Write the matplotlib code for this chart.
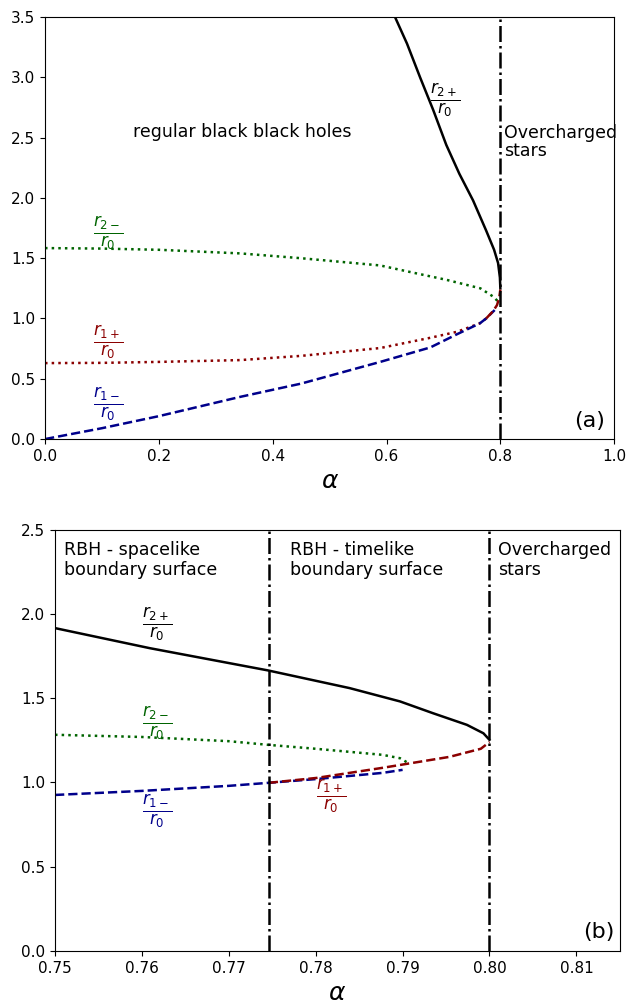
import matplotlib
matplotlib.use("Agg")
import matplotlib.pyplot as plt

# ---- panel (a) data ----
alpha_r2p_a = [0.615, 0.636, 0.659, 0.682, 0.705, 0.728, 0.752, 0.775, 0.789, 0.796, 0.7992, 0.80]
r2p_a = [3.50, 3.28, 3.00, 2.73, 2.44, 2.20, 1.98, 1.73, 1.57, 1.46, 1.34, 1.25]

alpha_r2m_a = [0.0, 0.1, 0.2, 0.343, 0.45, 0.589, 0.647, 0.706, 0.765, 0.788, 0.796, 0.80]
r2m_a = [1.584, 1.580, 1.570, 1.54, 1.50, 1.44, 1.38, 1.32, 1.25, 1.18, 1.14, 1.12]

alpha_r1p_a = [0.0, 0.1, 0.2, 0.343, 0.45, 0.589, 0.677, 0.724, 0.764, 0.775]
r1p_a = [0.63, 0.632, 0.64, 0.655, 0.69, 0.755, 0.84, 0.89, 0.96, 1.0]

alpha_r1p_dash_a = [0.775, 0.787, 0.794, 0.798, 0.80]
r1p_dash_a = [1.0, 1.06, 1.11, 1.17, 1.24]

alpha_r1m_a = [0.0, 0.1, 0.2, 0.343, 0.45, 0.589, 0.677, 0.724, 0.764, 0.775, 0.79]
r1m_a = [0.0, 0.09, 0.19, 0.35, 0.46, 0.64, 0.76, 0.87, 0.96, 1.0, 1.07]

# ---- panel (b) data ----
alpha_r2p_b = [0.75, 0.7609, 0.7745, 0.7839, 0.7897, 0.7935, 0.7974, 0.7993, 0.80]
r2p_b = [1.916, 1.797, 1.665, 1.560, 1.481, 1.411, 1.342, 1.292, 1.253]

alpha_r2m_b = [0.75, 0.76, 0.77, 0.7746, 0.78, 0.7877, 0.7897, 0.7905]
r2m_b = [1.283, 1.27, 1.245, 1.223, 1.20, 1.164, 1.144, 1.12]

alpha_r1m_b = [0.75, 0.76, 0.77, 0.7746, 0.78, 0.7877, 0.790]
r1m_b = [0.926, 0.95, 0.98, 0.998, 1.02, 1.057, 1.075]

alpha_r1p_b = [0.7746, 0.7801, 0.7877, 0.7954, 0.799, 0.80]
r1p_b = [0.998, 1.027, 1.087, 1.152, 1.20, 1.24]

alpha_ext = 0.8
alpha_sl = 0.7746

fig = plt.figure(figsize=(6.28, 10.07), dpi=100)
ax1 = fig.add_axes([0.0717, 0.564, 0.9063, 0.419])
ax2 = fig.add_axes([0.0876, 0.0556, 0.8994, 0.4184])

lw = 1.8
green = "#006400"
red = "#8b0000"
blue = "#00008b"
fs_lab = 17

# panel (a)
ax1.plot(alpha_r2p_a, r2p_a, "-", color="black", lw=lw)
ax1.plot(alpha_r2m_a, r2m_a, ":", color=green, lw=lw)
ax1.plot(alpha_r1p_a, r1p_a, ":", color=red, lw=lw)
ax1.plot(alpha_r1m_a, r1m_a, "--", color=blue, lw=lw)
ax1.plot(alpha_r1p_dash_a, r1p_dash_a, "--", color=red, lw=lw)
ax1.axvline(alpha_ext, color="black", ls="-.", lw=lw)

ax1.set_xlim(0, 1)
ax1.set_ylim(0, 3.5)
ax1.set_xticks([0.0, 0.2, 0.4, 0.6, 0.8, 1.0])
ax1.set_yticks([0.0, 0.5, 1.0, 1.5, 2.0, 2.5, 3.0, 3.5])
ax1.tick_params(labelsize=11)
ax1.set_xlabel(r"$\alpha$", fontsize=18)

ax1.text(0.155, 2.55, "regular black black holes", fontsize=12.5, va="center")
ax1.text(0.806, 2.61, "Overcharged\nstars", fontsize=12.5, va="top", linespacing=0.95)
ax1.text(0.93, 0.1, "(a)", fontsize=16)
ax1.text(0.677, 2.81, r"$\frac{r_{2+}}{r_0}$", fontsize=fs_lab, color="black", va="center")
ax1.text(0.084, 1.71, r"$\frac{r_{2-}}{r_0}$", fontsize=fs_lab, color=green, va="center")
ax1.text(0.084, 0.807, r"$\frac{r_{1+}}{r_0}$", fontsize=fs_lab, color=red, va="center")
ax1.text(0.084, 0.288, r"$\frac{r_{1-}}{r_0}$", fontsize=fs_lab, color=blue, va="center")

# panel (b)
ax2.plot(alpha_r2p_b, r2p_b, "-", color="black", lw=lw)
ax2.plot(alpha_r2m_b, r2m_b, ":", color=green, lw=lw)
ax2.plot(alpha_r1m_b, r1m_b, "--", color=blue, lw=lw)
ax2.plot(alpha_r1p_b, r1p_b, "--", color=red, lw=lw)
ax2.axvline(alpha_sl, color="black", ls="-.", lw=lw)
ax2.axvline(alpha_ext, color="black", ls="-.", lw=lw)

ax2.set_xlim(0.75, 0.815)
ax2.set_ylim(0, 2.5)
ax2.set_xticks([0.75, 0.76, 0.77, 0.78, 0.79, 0.80, 0.81])
ax2.set_yticks([0.0, 0.5, 1.0, 1.5, 2.0, 2.5])
ax2.tick_params(labelsize=11)
ax2.set_xlabel(r"$\alpha$", fontsize=18)

ax2.text(0.75104, 2.435, "RBH - spacelike\nboundary surface", fontsize=12.5, va="top")
ax2.text(0.7770, 2.435, "RBH - timelike\nboundary surface", fontsize=12.5, va="top")
ax2.text(0.8010, 2.435, "Overcharged\nstars", fontsize=12.5, va="top")
ax2.text(0.8108, 0.08, "(b)", fontsize=16)
ax2.text(0.76005, 1.94, r"$\frac{r_{2+}}{r_0}$", fontsize=fs_lab, color="black", va="center")
ax2.text(0.76005, 1.352, r"$\frac{r_{2-}}{r_0}$", fontsize=fs_lab, color=green, va="center")
ax2.text(0.76005, 0.827, r"$\frac{r_{1-}}{r_0}$", fontsize=fs_lab, color=blue, va="center")
ax2.text(0.78003, 0.916, r"$\frac{r_{1+}}{r_0}$", fontsize=fs_lab, color=red, va="center")

fig.savefig("out.png", dpi=100)
